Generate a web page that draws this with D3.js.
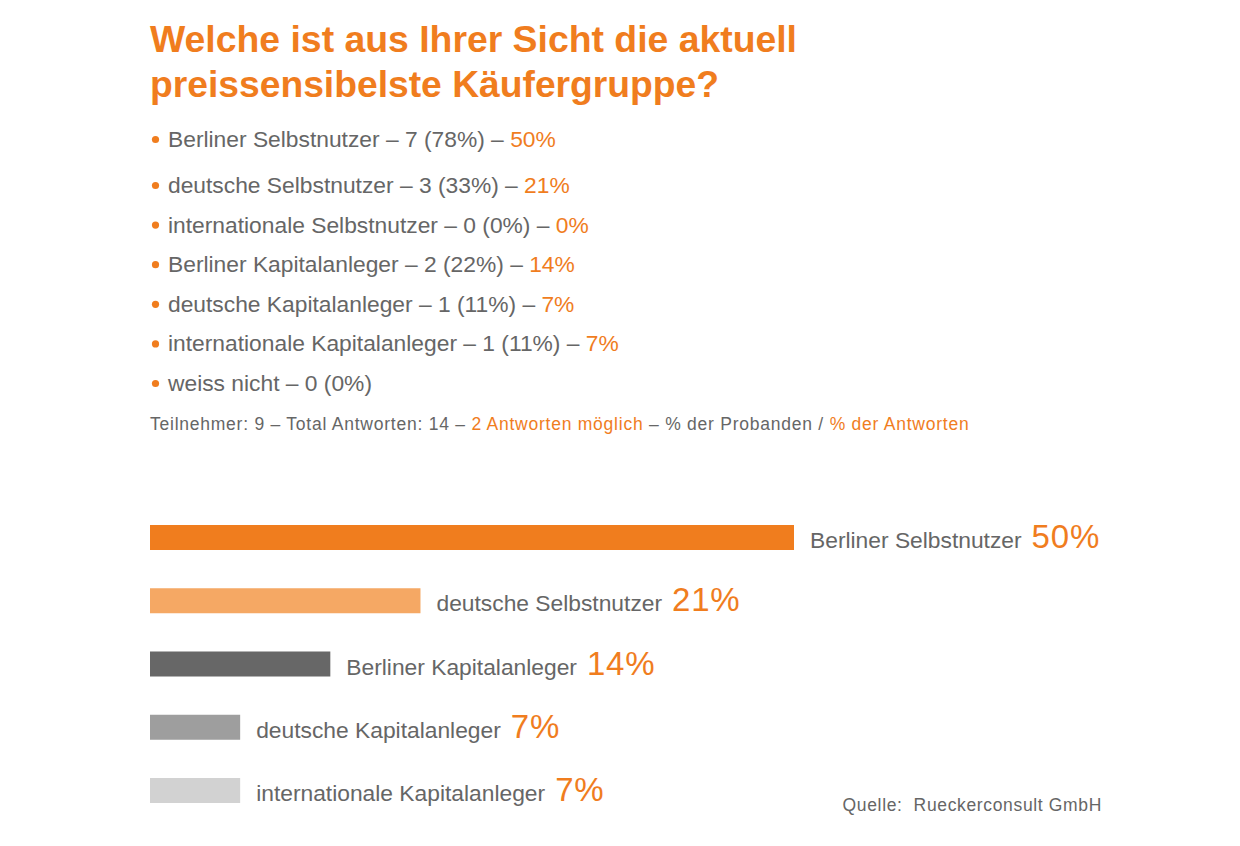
<!DOCTYPE html>
<html><head><meta charset="utf-8">
<script src="https://cdn.jsdelivr.net/npm/d3@7"></script>
<style>body{margin:0;background:#fff}svg{display:block}</style>
</head><body>
<script>
const titleLines = ["Welche ist aus Ihrer Sicht die aktuell", "preissensibelste Käufergruppe?"];
const listCategories = ["Berliner Selbstnutzer","deutsche Selbstnutzer","internationale Selbstnutzer","Berliner Kapitalanleger","deutsche Kapitalanleger","internationale Kapitalanleger","weiss nicht"];
const listCounts = [7,3,0,2,1,1,0];
const listPctProbanden = [78,33,0,22,11,11,0];
const listPctAntworten = [50,21,0,14,7,7,null];
const footnoteGray1 = "Teilnehmer: 9 – Total Antworten: 14 – ";
const footnoteOrange1 = "2 Antworten möglich";
const footnoteGray2 = " – % der Probanden / ";
const footnoteOrange2 = "% der Antworten";
const barCategories = ["Berliner Selbstnutzer","deutsche Selbstnutzer","Berliner Kapitalanleger","deutsche Kapitalanleger","internationale Kapitalanleger"];
const barValues = [50,21,14,7,7];
const source = "Quelle:  Rueckerconsult GmbH";

const ORANGE = "#f07d1e", GRAY = "#666666";
const barColors = ["#f07d1e","#f5a864","#676767","#9e9e9e","#d2d2d2"];
const FONT = "'Liberation Sans', Arial, Helvetica, sans-serif";

const svg = d3.select("body").append("svg").attr("width",1240).attr("height",846)
  .style("font-family", FONT);

// Title
const titleY = [52, 97];
svg.selectAll("text.title").data(titleLines).join("text").attr("class","title")
  .attr("x",150).attr("y",(d,i)=>titleY[i])
  .attr("fill",ORANGE).attr("font-weight","bold").attr("font-size",37.5)
  .attr("textLength",(d,i)=> i===0 ? 647 : 569).attr("lengthAdjust","spacingAndGlyphs")
  .text(d=>d);

// Bullet list
const listY = d3.scaleLinear().domain([1,6]).range([193,391]);
const listYs = listCategories.map((c,i)=> i===0 ? 147 : listY(i));
const items = svg.selectAll("g.item").data(listCategories).join("g").attr("class","item");
items.append("circle").attr("cx",155.5).attr("cy",(d,i)=>listYs[i]-7.5).attr("r",3.6).attr("fill",ORANGE);
const it = items.append("text").attr("x",168).attr("y",(d,i)=>listYs[i]).attr("font-size",22.8);
it.append("tspan").attr("fill",GRAY)
  .text((d,i)=> `${d} – ${listCounts[i]} (${listPctProbanden[i]}%)` + (listPctAntworten[i]!==null ? " – " : ""));
it.append("tspan").attr("fill",ORANGE)
  .text((d,i)=> listPctAntworten[i]!==null ? `${listPctAntworten[i]}%` : "");

// Footnote
const fn = svg.append("text").attr("x",150).attr("y",430).attr("font-size",17.5).attr("letter-spacing",0.76);
fn.append("tspan").attr("fill",GRAY).text(footnoteGray1);
fn.append("tspan").attr("fill",ORANGE).text(footnoteOrange1);
fn.append("tspan").attr("fill",GRAY).text(footnoteGray2);
fn.append("tspan").attr("fill",ORANGE).text(footnoteOrange2);

// Bars
const x = d3.scaleLinear().domain([0,50]).range([150,794]);
const bandH = 25;
const yPos = d3.scalePoint().domain(barCategories).range([525,778]);
svg.selectAll("rect.bar").data(barCategories).join("rect").attr("class","bar")
  .attr("x",x(0)).attr("y",d=>yPos(d)).attr("height",bandH)
  .attr("width",(d,i)=>x(barValues[i])-x(0)).attr("fill",(d,i)=>barColors[i]);
const lbl = svg.selectAll("text.blbl").data(barCategories).join("text").attr("class","blbl")
  .attr("x",(d,i)=>x(barValues[i])+16).attr("y",d=>yPos(d)+bandH-2);
lbl.append("tspan").attr("fill",GRAY).attr("font-size",22.8).text(d=>d);
lbl.append("tspan").attr("fill",ORANGE).attr("font-size",33).attr("dx",10).attr("letter-spacing",0.8).text((d,i)=>barValues[i]+"%");

// Source
svg.append("text").attr("x",1102).attr("y",811).attr("text-anchor","end")
  .attr("font-size",17.5).attr("letter-spacing",0.65).attr("fill",GRAY).style("white-space","pre").text(source);
</script>
</body></html>
